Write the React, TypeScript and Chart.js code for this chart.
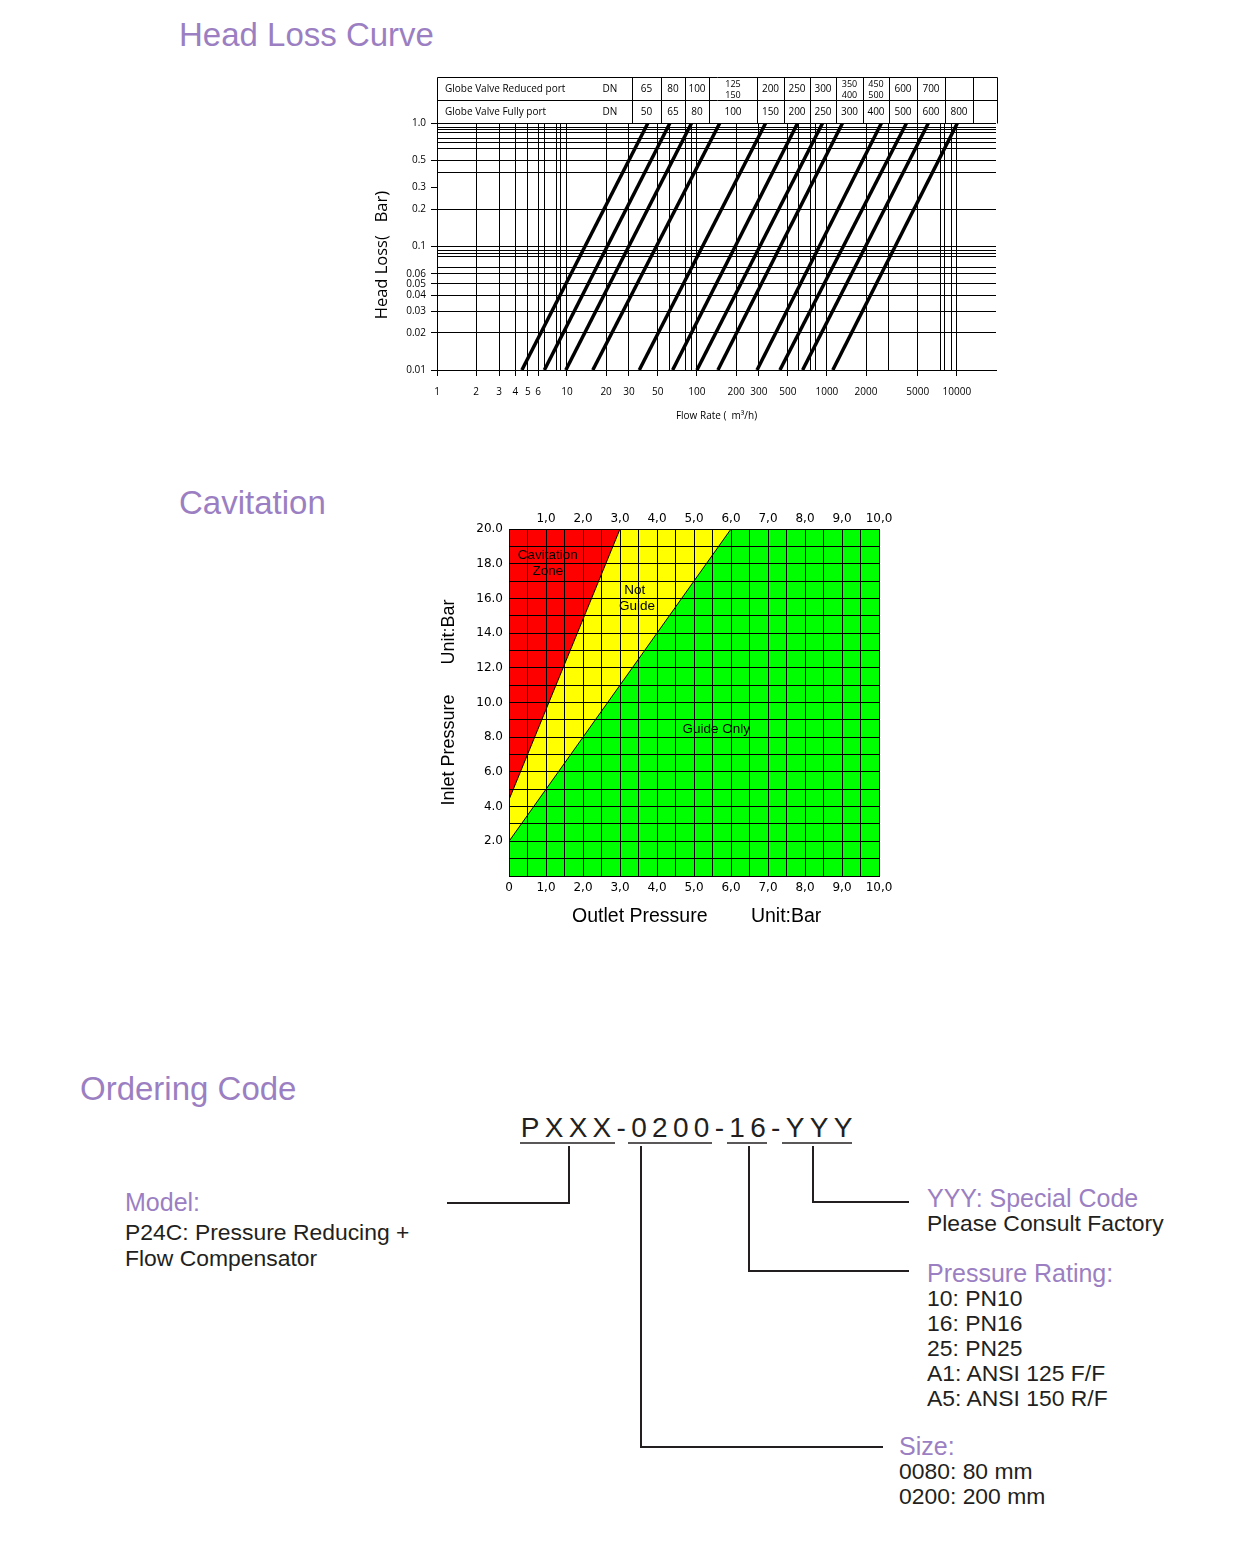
import React, { useEffect, useRef } from 'react';
import { Chart, registerables } from 'chart.js';

Chart.register(...registerables);

// ================= Head Loss Curve data =================
// Flow (m³/h) where each valve curve crosses 0.01 bar and 1.0 bar
const flowAtMinLoss = [4.5, 6.7, 9.8, 15.8, 36, 65, 100, 145, 290, 435, 650, 1110];
const flowAtMaxLoss = [42, 62, 91, 150, 338, 596, 927, 1320, 2630, 4100, 6040, 10100];
const lossRange = [0.01, 1.0];

const tableRowLabels = ['Globe Valve Reduced port', 'Globe Valve Fully port'];
const reducedPortDN = ['65', '80', '100', '125\n150', '200', '250', '300', '350\n400', '450\n500', '600', '700', '', ''];
const fullPortDN = ['50', '65', '80', '100', '150', '200', '250', '300', '400', '500', '600', '800', ''];

const flowTickValues = [1, 2, 3, 4, 5, 6, 10, 20, 30, 50, 100, 200, 300, 500, 1000, 2000, 5000, 10000];
const flowTickLabels = ['1', '2', '3', '4', '5', '6', '10', '20', '30', '50', '100', '200', '300', '500', '1000', '2000', '5000', '10000'];
const flowGridValues = [1, 2, 3, 4, 5, 6, 6.7, 8.3, 8.9, 10, 20, 30, 50, 61, 82, 91, 100, 200, 300, 500, 605, 750, 810, 1000, 2000, 3000, 5000, 7500, 8100, 9150, 10000];
const lossTickValues = [1, 0.5, 0.3, 0.2, 0.1, 0.06, 0.05, 0.04, 0.03, 0.02, 0.01];
const lossTickLabels = ['1.0', '0.5', '0.3', '0.2', '0.1', '0.06', '0.05', '0.04', '0.03', '0.02', '0.01'];
const lossGridValues = [1, 0.92, 0.88, 0.83, 0.75, 0.69, 0.62, 0.5, 0.4, 0.2, 0.1, 0.093, 0.088, 0.083, 0.067, 0.06, 0.05, 0.04, 0.03, 0.02, 0.01];

// ================= Cavitation data =================
const cavitationEdgeOutlet = [0, 3.0];
const cavitationEdgeInlet = [4.4, 20];
const guideEdgeOutlet = [0, 6.0];
const guideEdgeInlet = [2.0, 20];
const fullOutlet = [0, 10];
const fullInlet = [20, 20];
const outletTickLabels = ['0', '1,0', '2,0', '3,0', '4,0', '5,0', '6,0', '7,0', '8,0', '9,0', '10,0'];
const inletTickLabels = ['2.0', '4.0', '6.0', '8.0', '10.0', '12.0', '14.0', '16.0', '18.0', '20.0'];
const zoneTexts = ['Cavitation', 'Zone', 'Not', 'Guide', 'Guide Only'];
const zoneTextOutlet = [1.05, 1.05, 3.4, 3.46, 5.6];
const zoneTextInlet = [18.5, 17.58, 16.48, 15.56, 8.47];

// ================= layout constants =================
const PURPLE = '#9b7fc2';
const INK = '#231f20';
const SANS = '"Liberation Sans", Arial, sans-serif';
const TABLE_COL_EDGES = [195, 224, 248, 272, 320, 347, 373, 399, 426, 452, 480, 508, 536];
const TABLE_ROW_H = 23;

const transparent = 'rgba(0,0,0,0)';

const tablePlugin = {
  id: 'dnTable',
  afterDraw(chart: any) {
    const { ctx, chartArea } = chart;
    const left = chartArea.left;
    const right = chartArea.right + 1;
    const top = chartArea.top;
    const x0 = Math.round(left) + 0.5;
    const x1 = Math.round(right) + 0.5;
    const yTop = Math.round(top - 2 * TABLE_ROW_H) + 0.5;
    const yMid = Math.round(top - TABLE_ROW_H) + 0.5;
    const yBot = Math.round(top) + 0.5;
    ctx.save();
    ctx.strokeStyle = '#000';
    ctx.lineWidth = 1;
    ctx.beginPath();
    ctx.moveTo(x0, yTop); ctx.lineTo(x1, yTop);
    ctx.moveTo(x0, yMid); ctx.lineTo(x1, yMid);
    ctx.moveTo(x0, yTop); ctx.lineTo(x0, yBot);
    ctx.moveTo(x1, yTop); ctx.lineTo(x1, yBot);
    TABLE_COL_EDGES.forEach((e) => {
      const x = Math.round(left + e) + 0.5;
      ctx.moveTo(x, yTop); ctx.lineTo(x, yBot);
    });
    ctx.stroke();

    ctx.fillStyle = '#000';
    ctx.textBaseline = 'middle';
    const edges = [...TABLE_COL_EDGES, right - left];
    [reducedPortDN, fullPortDN].forEach((row, r) => {
      const cy = top - 2 * TABLE_ROW_H + r * TABLE_ROW_H + TABLE_ROW_H / 2 + 1;
      ctx.font = '10px "Open Sans"';
      ctx.textAlign = 'left';
      ctx.fillText(tableRowLabels[r], left + 8, cy);
      ctx.textAlign = 'center';
      ctx.fillText('DN', left + 173, cy);
      row.forEach((txt, i) => {
        if (!txt) return;
        const cx = left + (edges[i] + edges[i + 1]) / 2;
        const lines = txt.split('\n');
        if (lines.length === 1) {
          ctx.font = '10px "Open Sans"';
          ctx.fillText(txt, cx, cy);
        } else {
          ctx.font = '9px "Open Sans"';
          ctx.fillText(lines[0], cx, cy - 5.5);
          ctx.fillText(lines[1], cx, cy + 5.5);
        }
      });
    });
    ctx.restore();
  },
};

function HeadLossChart() {
  const ref = useRef<HTMLCanvasElement>(null);
  useEffect(() => {
    const allX = Array.from(new Set([...flowGridValues, ...flowTickValues])).sort((a, b) => a - b);
    const allY = Array.from(new Set([...lossGridValues, ...lossTickValues])).sort((a, b) => a - b);
    const chart = new Chart(ref.current as HTMLCanvasElement, {
      type: 'line',
      data: {
        datasets: flowAtMinLoss.map((q, i) => ({
          data: [
            { x: q, y: lossRange[0] },
            { x: flowAtMaxLoss[i], y: lossRange[1] },
          ],
          borderColor: '#000',
          borderWidth: 3.5,
          pointRadius: 0,
          fill: false,
        })),
      },
      options: {
        animation: false,
        responsive: false,
        devicePixelRatio: 1,
        layout: { padding: { top: 53, right: 14, left: 0, bottom: 0 } },
        plugins: { legend: { display: false }, tooltip: { enabled: false } },
        scales: {
          x: {
            type: 'logarithmic',
            min: 1,
            max: 20000,
            afterBuildTicks: (s: any) => { s.ticks = allX.map((v) => ({ value: v })); },
            afterFit: (s: any) => { s.height = 60; },
            ticks: {
              autoSkip: false,
              maxRotation: 0,
              minRotation: 0,
              padding: 10,
              color: '#000',
              font: { family: '"Open Sans"', size: 10 },
              callback: (v: any) => {
                const i = flowTickValues.indexOf(v);
                return i >= 0 ? flowTickLabels[i] : '';
              },
            },
            grid: {
              color: (c: any) => (c.tick && flowGridValues.includes(c.tick.value) ? '#000' : transparent),
              tickColor: (c: any) => (c.tick && flowTickValues.includes(c.tick.value) ? '#000' : transparent),
              tickLength: 6,
              lineWidth: 1,
            },
            border: { display: true, color: '#000' },
            title: {
              display: true,
              text: 'Flow Rate (  m³/h)',
              color: '#000',
              font: { family: '"Open Sans"', size: 10 },
              padding: { top: 0, bottom: 8 },
            },
          },
          y: {
            type: 'logarithmic',
            min: 0.01,
            max: 1,
            afterBuildTicks: (s: any) => { s.ticks = allY.map((v) => ({ value: v })); },
            afterFit: (s: any) => { s.width = 77; },
            ticks: {
              autoSkip: false,
              padding: 5,
              color: '#000',
              font: { family: '"Open Sans"', size: 10 },
              callback: (v: any) => {
                const i = lossTickValues.indexOf(v);
                return i >= 0 ? lossTickLabels[i] : '';
              },
            },
            grid: {
              color: (c: any) => (c.tick && lossGridValues.includes(c.tick.value) ? '#000' : transparent),
              tickColor: (c: any) => (c.tick && lossTickValues.includes(c.tick.value) ? '#000' : transparent),
              tickLength: 6,
              lineWidth: 1,
            },
            border: { display: true, color: '#000' },
            title: {
              display: true,
              text: 'Head Loss(   Bar)    ',
              color: '#000',
              font: { family: '"Open Sans"', size: 16.5 },
              padding: { top: 12, bottom: 0 },
            },
          },
        },
      } as any,
      plugins: [tablePlugin],
    });
    return () => chart.destroy();
  }, []);
  return (
    <canvas
      ref={ref}
      width={650}
      height={360}
      style={{ position: 'absolute', left: 360, top: 70, width: 650, height: 360 }}
    />
  );
}

const zoneTextPlugin = {
  id: 'zoneText',
  afterDraw(chart: any) {
    const { ctx, scales } = chart;
    ctx.save();
    ctx.fillStyle = '#000';
    ctx.textAlign = 'center';
    ctx.textBaseline = 'middle';
    ctx.font = `13.5px ${SANS}`;
    zoneTexts.forEach((t, i) => {
      ctx.fillText(t, scales.x.getPixelForValue(zoneTextOutlet[i]), scales.y.getPixelForValue(zoneTextInlet[i]));
    });
    ctx.restore();
  },
};

function CavitationChart() {
  const ref = useRef<HTMLCanvasElement>(null);
  useEffect(() => {
    const tickFont = { family: '"DejaVu Sans"', size: 12 };
    const chart = new Chart(ref.current as HTMLCanvasElement, {
      type: 'line',
      data: {
        datasets: [
          {
            data: cavitationEdgeOutlet.map((x, i) => ({ x, y: cavitationEdgeInlet[i] })),
            backgroundColor: '#ff0000',
            borderColor: '#000',
            borderWidth: 1,
            pointRadius: 0,
            fill: 'end',
          },
          {
            data: guideEdgeOutlet.map((x, i) => ({ x, y: guideEdgeInlet[i] })),
            backgroundColor: '#ffff00',
            borderColor: '#000',
            borderWidth: 1,
            pointRadius: 0,
            fill: 'end',
          },
          {
            data: fullOutlet.map((x, i) => ({ x, y: fullInlet[i] })),
            backgroundColor: '#00ff00',
            borderColor: transparent,
            borderWidth: 0,
            pointRadius: 0,
            fill: 'start',
          },
        ],
      },
      options: {
        animation: false,
        responsive: false,
        devicePixelRatio: 1,
        layout: { padding: { top: 0, right: 21, left: 0, bottom: 0 } },
        plugins: { legend: { display: false }, tooltip: { enabled: false } },
        scales: {
          x: {
            type: 'linear',
            position: 'bottom',
            min: 0,
            max: 10,
            afterFit: (s: any) => { s.height = 64; },
            ticks: {
              stepSize: 0.5,
              autoSkip: false,
              maxRotation: 0,
              minRotation: 0,
              padding: 5,
              color: '#000',
              font: tickFont,
              callback: (v: any) => (Number.isInteger(v) ? outletTickLabels[v] : ''),
            },
            grid: { color: '#000', lineWidth: 1, drawTicks: false, z: 1 },
            border: { color: '#000', z: 1 },
            title: {
              display: true,
              text: ' Outlet Pressure        Unit:Bar',
              color: '#000',
              font: { family: SANS, size: 19.5 },
              padding: { top: 0, bottom: 11.3 },
            },
          },
          x2: {
            type: 'linear',
            position: 'top',
            min: 0,
            max: 10,
            afterFit: (s: any) => { s.height = 29; },
            ticks: {
              stepSize: 0.5,
              autoSkip: false,
              maxRotation: 0,
              minRotation: 0,
              padding: 3,
              color: '#000',
              font: tickFont,
              callback: (v: any) => (Number.isInteger(v) && v > 0 ? outletTickLabels[v] : ''),
            },
            grid: { display: false, drawTicks: false },
            border: { display: false },
          },
          y: {
            type: 'linear',
            min: 0,
            max: 20,
            afterFit: (s: any) => { s.width = 79; },
            ticks: {
              stepSize: 1,
              autoSkip: false,
              padding: 6,
              color: '#000',
              font: tickFont,
              callback: (v: any) => (v > 0 && v % 2 === 0 ? inletTickLabels[v / 2 - 1] : ''),
            },
            grid: { color: '#000', lineWidth: 1, drawTicks: false, z: 1 },
            border: { color: '#000', z: 1 },
            title: {
              display: true,
              text: 'Inlet Pressure      Unit:Bar',
              color: '#000',
              font: { family: SANS, size: 18 },
              padding: { top: 8.2, bottom: 0 },
            },
          },
        },
      } as any,
      plugins: [zoneTextPlugin],
    });
    return () => chart.destroy();
  }, []);
  return (
    <canvas
      ref={ref}
      width={470}
      height={440}
      style={{ position: 'absolute', left: 430, top: 500, width: 470, height: 440 }}
    />
  );
}

function OrderingGraphics() {
  const black = { fill: INK, fontFamily: SANS, fontSize: 22.9 } as any;
  const purple = { fill: PURPLE, fontFamily: SANS, fontSize: 25 } as any;
  const heading = { fill: PURPLE, fontFamily: SANS, fontSize: 33 } as any;
  const pressureLines = ['10: PN10', '16: PN16', '25: PN25', 'A1: ANSI 125 F/F', 'A5: ANSI 150 R/F'];
  const sizeLines = ['0080: 80 mm', '0200: 200 mm'];
  return (
    <svg
      width={1200}
      height={1530}
      style={{ position: 'absolute', left: 0, top: 0 }}
    >
      <text x={179} y={46} style={heading}>Head Loss Curve</text>
      <text x={179} y={513.5} style={heading}>Cavitation</text>
      <text x={80} y={1099.5} style={heading}>Ordering Code</text>

      <text x={520.7} y={1137} style={{ fill: INK, fontFamily: SANS, fontSize: 28, letterSpacing: '5.3px' } as any}>PXXX-0200-16-YYY</text>
      <g stroke={INK} strokeWidth={1.5}>
        <line x1={520} y1={1143} x2={615} y2={1143} />
        <line x1={628} y1={1143} x2={712} y2={1143} />
        <line x1={727} y1={1143} x2={767} y2={1143} />
        <line x1={782} y1={1143} x2={852} y2={1143} />
      </g>
      <g stroke={INK} strokeWidth={2} fill="none">
        <path d="M569 1146 V1203 H447" />
        <path d="M641 1146 V1447 H883" />
        <path d="M749 1146 V1271 H909" />
        <path d="M813 1146 V1202 H909" />
      </g>

      <text x={125} y={1211} style={purple}>Model:</text>
      <text x={125} y={1239.5} style={black}>P24C: Pressure Reducing +</text>
      <text x={125} y={1265.5} style={black}>Flow Compensator</text>

      <text x={927} y={1207} style={purple}>YYY: Special Code</text>
      <text x={927} y={1231} style={black}>Please Consult Factory</text>

      <text x={927} y={1281.5} style={purple}>Pressure Rating:</text>
      {pressureLines.map((t, i) => (
        <text key={t} x={927} y={1306 + i * 25} style={black}>{t}</text>
      ))}

      <text x={899} y={1454.5} style={purple}>Size:</text>
      {sizeLines.map((t, i) => (
        <text key={t} x={899} y={1479 + i * 25} style={black}>{t}</text>
      ))}
    </svg>
  );
}

export default function App() {
  return (
    <div style={{ position: 'absolute', left: 0, top: 0, width: 1200, height: 1530, background: '#fff' }}>
      <OrderingGraphics />
      <HeadLossChart />
      <CavitationChart />
    </div>
  );
}
